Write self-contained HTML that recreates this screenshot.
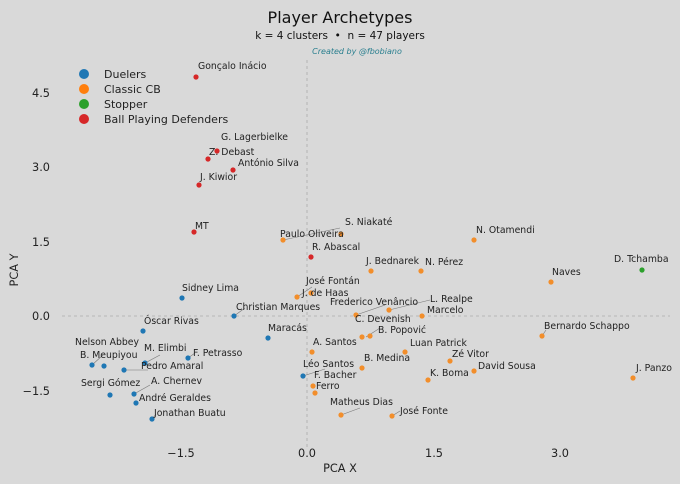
<!DOCTYPE html>
<html><head><meta charset="utf-8"><style>
body{margin:0;background:#d9d9d9}
svg{display:block;font-family:"DejaVu Sans","Liberation Sans",sans-serif}
.l{font-size:9.3px;fill:#222}
.t{font-size:11.3px;fill:#222}
</style></head><body>
<svg width="680" height="484" viewBox="0 0 680 484">
<rect width="680" height="484" fill="#d9d9d9"/>
<text x="340" y="23" text-anchor="middle" font-size="16" fill="#111">Player Archetypes</text>
<text x="340" y="39" text-anchor="middle" font-size="10.5" fill="#111" xml:space="preserve">k = 4 clusters  •  n = 47 players</text>
<text x="357" y="54" text-anchor="middle" font-size="8" font-style="italic" fill="#2a7f8f">Created by @fbobiano</text>
<line x1="307" y1="60" x2="307" y2="450" stroke="#aaa" stroke-dasharray="3,3" stroke-width="0.8"/>
<line x1="62" y1="316" x2="670" y2="316" stroke="#aaa" stroke-dasharray="3,3" stroke-width="0.8"/>
<g class="t" text-anchor="end"><text x="50" y="97">4.5</text><text x="50" y="171">3.0</text><text x="50" y="246">1.5</text><text x="50" y="320">0.0</text><text x="50" y="395">−1.5</text></g>
<g class="t" text-anchor="middle"><text x="181" y="457">−1.5</text><text x="307" y="457">0.0</text><text x="434" y="457">1.5</text><text x="560" y="457">3.0</text></g>
<text x="340" y="472" text-anchor="middle" class="t">PCA X</text>
<text transform="translate(18,270) rotate(-90)" text-anchor="middle" class="t">PCA Y</text>
<g font-size="11" fill="#222">
<circle cx="84" cy="74" r="5" fill="#1f77b4"/><text x="104" y="78">Duelers</text>
<circle cx="84" cy="89" r="5" fill="#ff7f0e"/><text x="104" y="93">Classic CB</text>
<circle cx="84" cy="104" r="5" fill="#2ca02c"/><text x="104" y="108">Stopper</text>
<circle cx="84" cy="119" r="5" fill="#d62728"/><text x="104" y="123">Ball Playing Defenders</text>
</g>
<g stroke="#777" stroke-width="0.6">
<line x1="283" y1="240" x2="340" y2="228"/><line x1="297" y1="297" x2="312" y2="287"/>
<line x1="356" y1="315" x2="385" y2="305"/><line x1="389" y1="310" x2="430" y2="300"/>
<line x1="366" y1="337" x2="380" y2="328"/><line x1="303" y1="376" x2="325" y2="369"/>
<line x1="341" y1="415" x2="360" y2="408"/><line x1="392" y1="416" x2="400" y2="411"/>
<line x1="234" y1="316" x2="245" y2="308"/><line x1="92" y1="365" x2="103" y2="355"/>
<line x1="124" y1="370" x2="148" y2="370"/><line x1="145" y1="363" x2="160" y2="355"/>
<line x1="188" y1="358" x2="195" y2="353"/><line x1="134" y1="394" x2="150" y2="385"/>
<line x1="152" y1="419" x2="156" y2="414"/><line x1="542" y1="336" x2="546" y2="330"/>
</g>
<g fill="#1f77b4">
<circle cx="182" cy="298" r="2.6"/><circle cx="234" cy="316" r="2.6"/><circle cx="268" cy="338" r="2.6"/><circle cx="143" cy="331" r="2.6"/><circle cx="92" cy="365" r="2.6"/><circle cx="104" cy="366" r="2.6"/><circle cx="124" cy="370" r="2.6"/><circle cx="145" cy="363" r="2.6"/><circle cx="188" cy="358" r="2.6"/><circle cx="110" cy="395" r="2.6"/><circle cx="134" cy="394" r="2.6"/><circle cx="136" cy="403" r="2.6"/><circle cx="152" cy="419" r="2.6"/><circle cx="303" cy="376" r="2.6"/>
</g>
<g fill="#f28e2b">
<circle cx="283" cy="240" r="2.6"/><circle cx="341" cy="234" r="2.6"/><circle cx="474" cy="240" r="2.6"/><circle cx="371" cy="271" r="2.6"/><circle cx="421" cy="271" r="2.6"/><circle cx="311" cy="293" r="2.6"/><circle cx="297" cy="297" r="2.6"/><circle cx="551" cy="282" r="2.6"/><circle cx="389" cy="310" r="2.6"/><circle cx="356" cy="315" r="2.6"/><circle cx="422" cy="316" r="2.6"/><circle cx="362" cy="337" r="2.6"/><circle cx="370" cy="336" r="2.6"/><circle cx="312" cy="352" r="2.6"/><circle cx="362" cy="368" r="2.6"/><circle cx="405" cy="352" r="2.6"/><circle cx="450" cy="361" r="2.6"/><circle cx="474" cy="371" r="2.6"/><circle cx="428" cy="380" r="2.6"/><circle cx="313" cy="386" r="2.6"/><circle cx="315" cy="393" r="2.6"/><circle cx="341" cy="415" r="2.6"/><circle cx="392" cy="416" r="2.6"/><circle cx="542" cy="336" r="2.6"/><circle cx="633" cy="378" r="2.6"/>
</g>
<circle cx="642" cy="270" r="2.6" fill="#2ca02c"/>
<g fill="#d62728">
<circle cx="196" cy="77" r="2.6"/><circle cx="217" cy="151" r="2.6"/><circle cx="208" cy="159" r="2.6"/><circle cx="233" cy="170" r="2.6"/><circle cx="199" cy="185" r="2.6"/><circle cx="194" cy="232" r="2.6"/><circle cx="311" cy="257" r="2.6"/>
</g>
<g class="l">
<text x="198" y="69">Gonçalo Inácio</text><text x="221" y="140">G. Lagerbielke</text><text x="209" y="155">Z. Debast</text><text x="238" y="166">António Silva</text><text x="200" y="180">J. Kiwior</text><text x="195" y="229">MT</text>
<text x="312" y="250">R. Abascal</text><text x="345" y="225">S. Niakaté</text><text x="280" y="237">Paulo Oliveira</text><text x="476" y="233">N. Otamendi</text>
<text x="366" y="264">J. Bednarek</text><text x="425" y="265">N. Pérez</text><text x="306" y="284">José Fontán</text><text x="302" y="296">J. de Haas</text>
<text x="552" y="275">Naves</text><text x="614" y="262">D. Tchamba</text><text x="182" y="291">Sidney Lima</text><text x="236" y="310">Christian Marques</text>
<text x="330" y="305">Frederico Venâncio</text><text x="430" y="302">L. Realpe</text><text x="427" y="313">Marcelo</text>
<text x="355" y="322">C. Devenish</text><text x="378" y="333">B. Popović</text><text x="544" y="329">Bernardo Schappo</text>
<text x="144" y="324">Óscar Rivas</text><text x="268" y="331">Maracás</text><text x="313" y="345">A. Santos</text><text x="364" y="361">B. Medina</text>
<text x="410" y="346">Luan Patrick</text><text x="452" y="357">Zé Vitor</text><text x="478" y="369">David Sousa</text><text x="430" y="376">K. Boma</text>
<text x="303" y="367">Léo Santos</text><text x="314" y="378">F. Bacher</text><text x="316" y="389">Ferro</text><text x="330" y="405">Matheus Dias</text><text x="400" y="414">José Fonte</text>
<text x="636" y="371">J. Panzo</text>
<text x="75" y="345">Nelson Abbey</text><text x="80" y="358">B. Meupiyou</text><text x="144" y="351">M. Elimbi</text><text x="193" y="356">F. Petrasso</text><text x="141" y="369">Pedro Amaral</text>
<text x="81" y="386">Sergi Gómez</text><text x="151" y="384">A. Chernev</text><text x="139" y="401">André Geraldes</text><text x="154" y="416">Jonathan Buatu</text>
</g>
</svg>
</body></html>
